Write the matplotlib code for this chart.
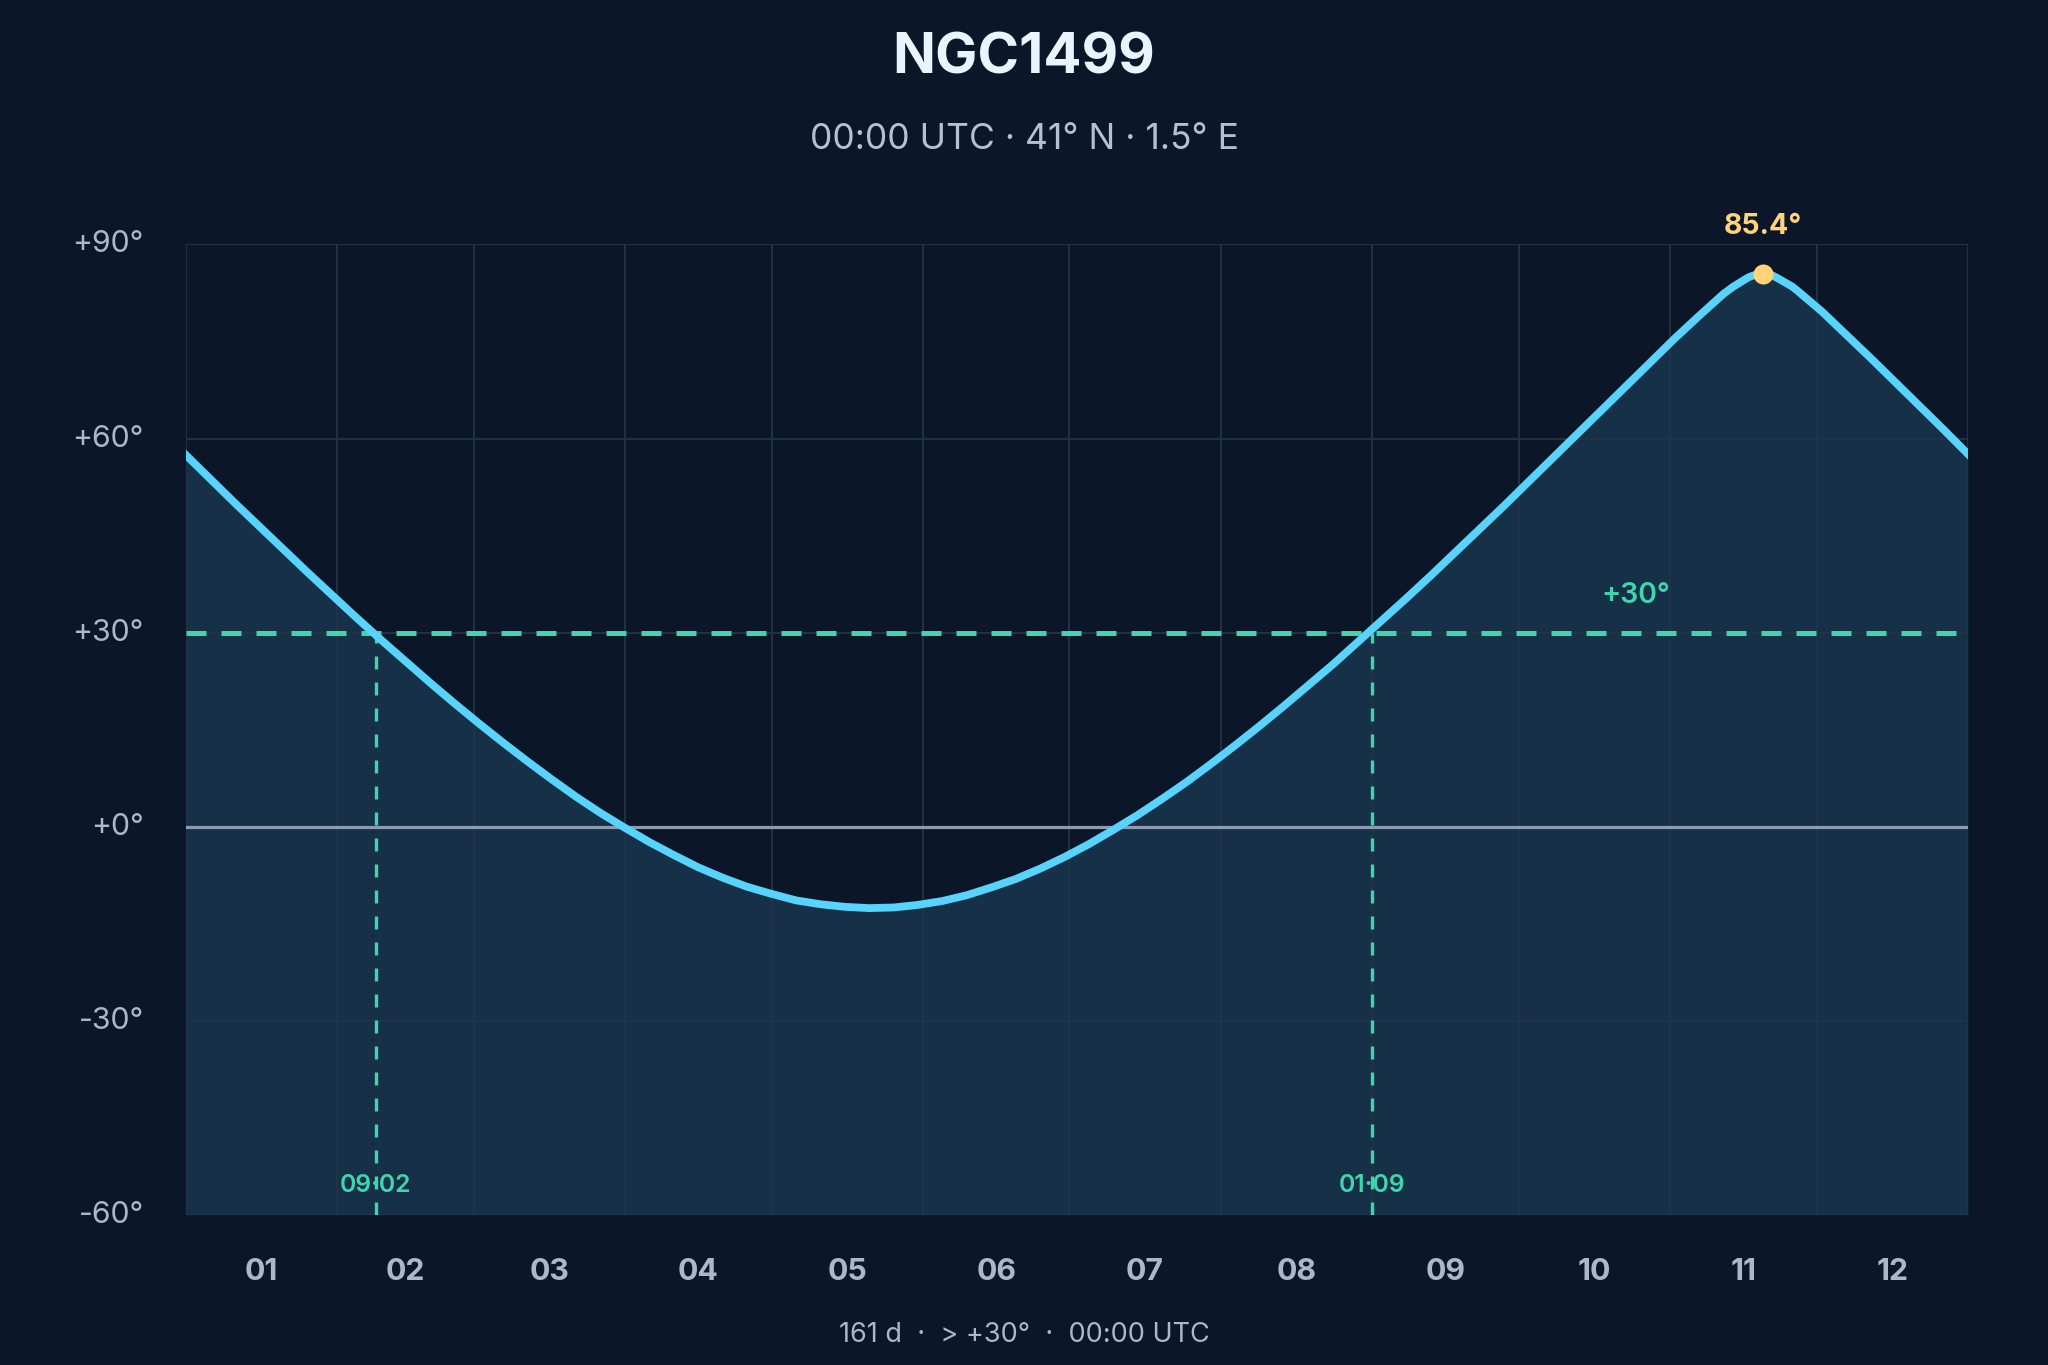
import matplotlib
import matplotlib.pyplot as plt

matplotlib.use('Agg')

# altitude of NGC1499 at 00:00 UTC (day of year -> degrees)
days = [0, 5, 10, 15, 20, 25, 30, 35, 40, 45, 50, 55, 60, 65, 70, 75, 80, 85, 90, 95,
        100, 105, 110, 115, 120, 125, 130, 135, 140, 145, 150, 155, 160, 165, 170, 175,
        180, 185, 190, 195, 200, 205, 210, 215, 220, 225, 230, 235, 240, 245, 250, 255,
        260, 265, 270, 275, 280, 285, 290, 295, 300, 305, 310, 315, 317, 320, 321, 322,
        323, 324, 325, 326, 329, 330, 335, 340, 345, 350, 355, 360, 365]
altitude = [57.5, 53.8, 50.1, 46.5, 42.9, 39.3, 35.8, 32.3, 28.9, 25.6, 22.3, 19.1, 16.0,
            13.0, 10.1, 7.3, 4.6, 2.1, -0.2, -2.4, -4.4, -6.3, -7.9, -9.3, -10.4, -11.4,
            -12.0, -12.4, -12.6, -12.5, -12.1, -11.5, -10.6, -9.4, -8.1, -6.5, -4.7, -2.7,
            -0.5, 1.8, 4.3, 6.9, 9.7, 12.6, 15.6, 18.7, 21.9, 25.1, 28.5, 31.9, 35.3, 38.8,
            42.4, 46.0, 49.6, 53.3, 57.0, 60.7, 64.4, 68.1, 71.8, 75.5, 79.0, 82.4, 83.5,
            84.9, 85.2, 85.4, 85.4, 85.3, 85.2, 84.8, 83.5, 82.9, 79.7, 76.1, 72.5, 68.8,
            65.1, 61.4, 57.6]

month_starts = [0, 31, 59, 90, 120, 151, 181, 212, 243, 273, 304, 334, 365]
month_mids = [15.5, 45, 74.5, 105, 135.5, 166, 196.5, 227.5, 258, 288.5, 319, 349.5]
month_labels = ['01', '02', '03', '04', '05', '06', '07', '08', '09', '10', '11', '12']
alt_ticks = [-60, -30, 0, 30, 60, 90]
alt_labels = ['-60°', '-30°', '+0°', '+30°', '+60°', '+90°']

threshold = 30
cross_days = [39, 243]
cross_labels = ['09·02', '01·09']
peak_day = 323
peak_alt = 85.4
days_above = 161

BG = '#0b1628'
FILL = '#163047'
GRID = '#223449'
CURVE = '#58d3fb'
TEAL = '#3fd6ad'
YELLOW = '#ffd37a'
TXT = '#a9b8cc'

plt.rcParams['font.family'] = ['Inter', 'DejaVu Sans']

fig = plt.figure(figsize=(20.48, 13.65), dpi=100, facecolor=BG)
ax = fig.add_axes([0.0906, 0.1101, 0.8703, 0.7108])
ax.set_facecolor(BG)
ax.set_xlim(0, 365)
ax.set_ylim(-60, 90)

ax.fill_between(days, altitude, -60, color=FILL, lw=0, zorder=1)

# grid: altitude ticks + month boundaries
ax.set_yticks(alt_ticks)
ax.set_yticklabels(alt_labels)
ax.set_xticks(month_mids)
ax.set_xticklabels(month_labels, fontweight='bold')
ax.set_xticks(month_starts, minor=True)
ax.grid(axis='y', which='major', color=GRID, lw=1.3, zorder=2)
ax.grid(axis='x', which='minor', color=GRID, lw=1.3, zorder=2)
ax.set_axisbelow(False)
for s in ax.spines.values():
    s.set_visible(False)
ax.tick_params(axis='both', which='both', length=0)
ax.tick_params(axis='y', labelsize=21.8, labelcolor=TXT, pad=30)
ax.tick_params(axis='x', labelsize=21.8, labelcolor=TXT, pad=31.5)
for lab in ax.get_yticklabels():
    lab.set_verticalalignment('center')

ax.axhline(0, color='#8b9bb0', lw=2.3, zorder=3)

# crossing labels sit under the dashed markers
for d, lab in zip(cross_days, cross_labels):
    ax.text(d, -56.5, lab, ha='center', va='baseline', color=TEAL, fontsize=17.8,
            fontweight='semibold', zorder=3.5)
ax.vlines(cross_days, -60, threshold, colors=TEAL, lw=2.4, linestyles=(0, (3.9, 3.9)), zorder=4)
ax.axhline(threshold, color=TEAL, lw=3.6, ls=(0, (4, 3)), zorder=4)
ax.text(297, 34.5, f'+{threshold}°', ha='center', va='baseline', color=TEAL, fontsize=20.5,
        fontweight='semibold', zorder=4)

ax.plot(days, altitude, color=CURVE, lw=5.6, zorder=5, solid_joinstyle='round')
ax.plot(peak_day, peak_alt, 'o', ms=14.4, color=YELLOW, mec='none', zorder=6)
ax.annotate(f'{peak_alt:.1f}°', xy=(peak_day, peak_alt), xytext=(0, 29), textcoords='offset points',
            ha='center', va='baseline', color=YELLOW, fontsize=20.5, fontweight='bold',
            annotation_clip=False, zorder=6)

fig.text(0.5, 0.9458, 'NGC1499', ha='center', va='baseline', color='#eaf4ff', fontsize=40.6,
         fontweight='bold')
fig.text(0.5, 0.8906, '00:00 UTC · 41° N · 1.5° E', ha='center', va='baseline', color='#b2c1d4',
         fontsize=25.5)
fig.text(0.5, 0.0171, f'{days_above} d  ·  > +{threshold}°  ·  00:00 UTC', ha='center',
         va='baseline', color=TXT, fontsize=19.5)

fig.savefig('out.png', facecolor=BG)
